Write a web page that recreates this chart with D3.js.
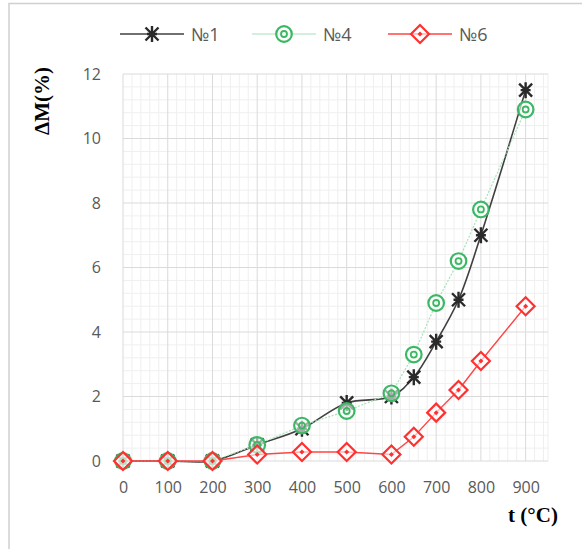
<!DOCTYPE html>
<html>
<head>
<meta charset="utf-8">
<script src="https://cdn.jsdelivr.net/npm/d3@7"></script>
<style>
  body { margin: 0; background: #fff; }
  svg { display: block; }
</style>
</head>
<body>
<svg width="582" height="549"></svg>
<script>
// temperatures (°C)
var temps = [0, 100, 200, 300, 400, 500, 600, 650, 700, 750, 800, 900];
// mass change ΔM (%) per sample
var s1 = [0, 0, 0, 0.5, 1.0, 1.8, 2.0, 2.6, 3.7, 5.0, 7.0, 11.5];
var s4 = [0, 0, 0, 0.5, 1.1, 1.55, 2.1, 3.3, 4.9, 6.2, 7.8, 10.9];
var s6 = [0, 0, 0, 0.2, 0.28, 0.28, 0.2, 0.75, 1.5, 2.2, 3.1, 4.8];
var names = ["№1", "№4", "№6"];
var xTicks = [0, 100, 200, 300, 400, 500, 600, 700, 800, 900];
var yTicks = [0, 2, 4, 6, 8, 10, 12];

var svg = d3.select("svg");

var x = d3.scaleLinear().domain([0, 950]).range([123, 548]);
var y = d3.scaleLinear().domain([0, 12]).range([461, 74]);

// frame
svg.append("path")
  .attr("d", "M9,549V3.5H582")
  .attr("fill", "none")
  .attr("stroke", "#d0d0d0")
  .attr("stroke-width", 1.5);

// grid
var grid = svg.append("g");
grid.selectAll(".vmin")
  .data(d3.range(20, 950, 20).filter(function(d) { return d % 100 != 0; }))
  .enter().append("line")
  .attr("x1", function(d) { return x(d); }).attr("x2", function(d) { return x(d); })
  .attr("y1", y(12)).attr("y2", y(0))
  .attr("stroke", "#efefef").attr("stroke-width", 1);
grid.selectAll(".hmin")
  .data(d3.range(0.4, 12, 0.4).filter(function(d) { return Math.abs(d / 2 - Math.round(d / 2)) > 0.01; }))
  .enter().append("line")
  .attr("y1", function(d) { return y(d); }).attr("y2", function(d) { return y(d); })
  .attr("x1", x(0)).attr("x2", x(950))
  .attr("stroke", "#efefef").attr("stroke-width", 1);
grid.selectAll(".vmaj")
  .data(xTicks.concat([950]))
  .enter().append("line")
  .attr("x1", function(d) { return x(d); }).attr("x2", function(d) { return x(d); })
  .attr("y1", y(12)).attr("y2", y(0))
  .attr("stroke", function(d) { return d == 950 ? "#efefef" : "#dadada"; }).attr("stroke-width", 1);
grid.selectAll(".hmaj")
  .data(yTicks)
  .enter().append("line")
  .attr("y1", function(d) { return y(d); }).attr("y2", function(d) { return y(d); })
  .attr("x1", x(0)).attr("x2", x(950))
  .attr("stroke", "#dadada").attr("stroke-width", 1);

// axes (labels only)
var xAxis = svg.append("g")
  .attr("transform", "translate(0," + (y(0) + 14) + ")")
  .call(d3.axisBottom(x).tickValues(xTicks).tickSize(0).tickPadding(8));
var yAxis = svg.append("g")
  .attr("transform", "translate(" + (x(0) - 12) + ",0)")
  .call(d3.axisLeft(y).tickValues(yTicks).tickSize(0).tickPadding(10));
[xAxis, yAxis].forEach(function(a) {
  a.select(".domain").remove();
  a.selectAll("text")
    .attr("fill", "#595959")
    .style("font-family", "'Open Sans', 'Liberation Sans', sans-serif")
    .style("font-size", "16px");
});
xAxis.selectAll("text").attr("dy", "0.6em");

// axis titles
svg.append("text")
  .attr("transform", "translate(49,101) rotate(-90)")
  .attr("text-anchor", "middle")
  .style("font-family", "'Liberation Serif', 'DejaVu Serif', serif")
  .style("font-weight", "bold")
  .style("font-size", "21px")
  .text("ΔM(%)");
svg.append("text")
  .attr("x", 533).attr("y", 522)
  .attr("text-anchor", "middle")
  .style("font-family", "'Liberation Serif', 'DejaVu Serif', serif")
  .style("font-weight", "bold")
  .style("font-size", "21px")
  .text("t (°C)");

var series = [
  { name: names[0], values: s1, color: "#404040", width: 1.6, dash: null, curve: d3.curveCatmullRom.alpha(0.5), marker: "star" },
  { name: names[1], values: s4, color: "#a6e2b8", width: 1.2, dash: "2,1.5", curve: d3.curveLinear, marker: "circle" },
  { name: names[2], values: s6, color: "#ff4545", width: 1.4, dash: null, curve: d3.curveLinear, marker: "diamond" }
];

function drawMarker(g, type) {
  if (type == "star") {
    g.append("path")
      .attr("d", "M-6.5,-6.5L6.5,6.5M-6.5,6.5L6.5,-6.5M0,-8V8M-5,0H5")
      .attr("stroke", "#2a2a2a").attr("stroke-width", 2.4).attr("fill", "none");
  } else if (type == "circle") {
    g.append("circle").attr("r", 7.8).attr("fill", "#fff").attr("fill-opacity", 0.6)
      .attr("stroke", "#3cb865").attr("stroke-width", 2.2);
    g.append("circle").attr("r", 3).attr("fill", "none")
      .attr("stroke", "#3cb865").attr("stroke-width", 1.8);
  } else {
    g.append("path").attr("d", "M0,-9L9,0L0,9L-9,0Z")
      .attr("fill", "#fff").attr("fill-opacity", 0.6)
      .attr("stroke", "#ff3030").attr("stroke-width", 2.2);
    g.append("path").attr("d", "M0,-2.5L2.5,0L0,2.5L-2.5,0Z")
      .attr("fill", "#ff3030");
  }
}

series.forEach(function(s) {
  var line = d3.line()
    .x(function(d, i) { return x(temps[i]); })
    .y(function(d) { return y(d); })
    .curve(s.curve);
  svg.append("path")
    .datum(s.values)
    .attr("d", line)
    .attr("fill", "none")
    .attr("stroke", s.color)
    .attr("stroke-width", s.width)
    .attr("stroke-dasharray", s.dash);
});

series.forEach(function(s) {
  s.values.forEach(function(v, i) {
    var g = svg.append("g").attr("transform", "translate(" + x(temps[i]) + "," + y(v) + ")");
    drawMarker(g, s.marker);
  });
});

// legend
var legX = [120, 252, 388];
series.forEach(function(s, i) {
  var g = svg.append("g").attr("transform", "translate(" + legX[i] + ",34)");
  g.append("line").attr("x1", 0).attr("x2", 64)
    .attr("stroke", s.color).attr("stroke-width", s.width);
  var m = g.append("g").attr("transform", "translate(32,0)");
  drawMarker(m, s.marker);
  g.append("text")
    .attr("x", 71).attr("y", 7)
    .attr("fill", "#595959")
    .style("font-family", "'Open Sans', 'Liberation Sans', sans-serif")
    .style("font-size", "18px")
    .text(s.name);
});
</script>
</body>
</html>
